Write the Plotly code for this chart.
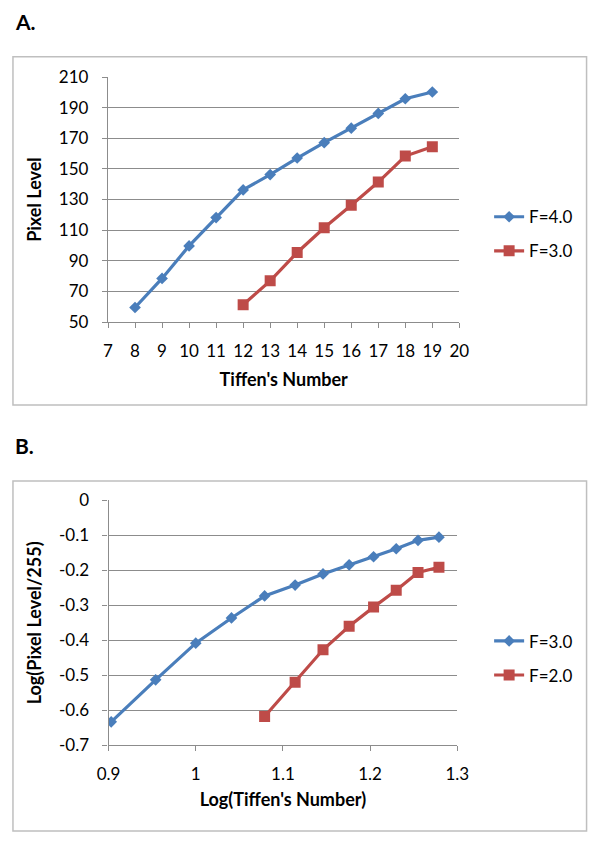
import plotly.graph_objects as go

# ---- Panel A data ----
a_x_f4 = [8, 9, 10, 11, 12, 13, 14, 15, 16, 17, 18, 19]
a_y_f4 = [59.5, 78.5, 99.7, 118.2, 136.3, 146.3, 157.1, 167.1, 176.6, 186.2, 195.8, 200.2]
a_x_f3 = [12, 13, 14, 15, 16, 17, 18, 19]
a_y_f3 = [61.3, 76.9, 95.4, 111.6, 126.2, 141.4, 158.4, 164.5]

# ---- Panel B data ----
b_x_f3 = [0.903, 0.954, 1.0, 1.041, 1.079, 1.114, 1.146, 1.176, 1.204, 1.230, 1.255, 1.279]
b_y_f3 = [-0.633, -0.513, -0.408, -0.336, -0.273, -0.242, -0.210, -0.184, -0.161, -0.138, -0.114, -0.105]
b_x_f2 = [1.079, 1.114, 1.146, 1.176, 1.204, 1.230, 1.255, 1.279]
b_y_f2 = [-0.618, -0.520, -0.427, -0.360, -0.305, -0.257, -0.206, -0.191]

b_yticks = [0, -0.1, -0.2, -0.3, -0.4, -0.5, -0.6, -0.7]
b_yticktext = ["0", "-0.1", "-0.2", "-0.3", "-0.4", "-0.5", "-0.6", "-0.7"]

BLUE = "#4A7EBB"
RED = "#BE4B48"
GRID = "#8C8C8C"
FONT = "Lato"
W, H = 600, 842

def px(x):
    return x / W

def py(y):
    return 1 - y / H

fig = go.Figure()

fig.add_trace(go.Scatter(x=a_x_f4, y=a_y_f4, name="F=4.0", mode="lines+markers",
                         line=dict(color=BLUE, width=3.2),
                         marker=dict(symbol="diamond", size=9, color=BLUE),
                         xaxis="x", yaxis="y", legend="legend", legendgroup="a1"))
fig.add_trace(go.Scatter(x=a_x_f3, y=a_y_f3, name="F=3.0", mode="lines+markers",
                         line=dict(color=RED, width=3.2),
                         marker=dict(symbol="square", size=11, color=RED),
                         xaxis="x", yaxis="y", legend="legend", legendgroup="a2"))
fig.add_trace(go.Scatter(x=b_x_f3, y=b_y_f3, name="F=3.0", mode="lines+markers",
                         line=dict(color=BLUE, width=3.2),
                         marker=dict(symbol="diamond", size=9, color=BLUE),
                         xaxis="x2", yaxis="y2", legend="legend2", legendgroup="b1"))
fig.add_trace(go.Scatter(x=b_x_f2, y=b_y_f2, name="F=2.0", mode="lines+markers",
                         line=dict(color=RED, width=3.2),
                         marker=dict(symbol="square", size=11, color=RED),
                         xaxis="x2", yaxis="y2", legend="legend2", legendgroup="b2"))

tickfont = dict(family=FONT, size=17, color="#000000")
titlefont = dict(family=FONT, size=18, color="#000000", weight="bold")

common_x = dict(showline=True, linecolor=GRID, linewidth=1.3, ticks="outside",
                ticklen=5, tickcolor=GRID, tickwidth=1.3, showgrid=False,
                zeroline=False, tickfont=tickfont, ticklabelstandoff=8)
common_y = dict(showline=True, linecolor=GRID, linewidth=1.3, ticks="outside",
                ticklen=5, tickcolor=GRID, tickwidth=1.3, showgrid=True,
                gridcolor=GRID, gridwidth=1.3, zeroline=False, tickfont=tickfont,
                ticklabelstandoff=10)

legend_common = dict(xanchor="left", yanchor="top",
                     font=dict(family=FONT, size=17, color="#000000"),
                     bgcolor="rgba(0,0,0,0)", tracegroupgap=9, itemwidth=30)

fig.update_layout(
    width=W, height=H,
    margin=dict(l=0, r=0, t=0, b=0),
    paper_bgcolor="white", plot_bgcolor="white",
    font=dict(family=FONT, color="#000000"),
    xaxis=dict(domain=[px(100), px(466)], range=[7, 20], dtick=1, tick0=7,
               anchor="y", title=dict(text="Tiffen's Number", font=titlefont, standoff=13),
               **common_x),
    yaxis=dict(domain=[py(319), py(67.7)], range=[50, 210], dtick=20, tick0=50,
               anchor="x", title=dict(text="Pixel Level", font=titlefont, standoff=12),
               **common_y),
    xaxis2=dict(domain=[px(100.6), px(463.8)], range=[0.9, 1.3], dtick=0.1, tick0=0.9,
                anchor="y2", title=dict(text="Log(Tiffen's Number)", font=titlefont, standoff=10),
                **common_x),
    yaxis2=dict(domain=[py(753), py(502)], range=[-0.7, 0], tickmode="array",
                tickvals=b_yticks, ticktext=b_yticktext,
                anchor="x2", title=dict(text="Log(Pixel Level/255)", font=titlefont, standoff=12),
                **common_y),
    legend=dict(x=px(497), y=py(193), **legend_common),
    legend2=dict(x=px(497), y=py(628), **legend_common),
    shapes=[
        dict(type="rect", xref="paper", yref="paper", x0=px(1), x1=px(598.5),
             y0=py(404), y1=py(47), line=dict(color="#BFBFBF", width=1.5)),
        dict(type="rect", xref="paper", yref="paper", x0=px(1), x1=px(598.5),
             y0=py(841), y1=py(482), line=dict(color="#BFBFBF", width=1.5)),
    ],
    annotations=[
        dict(text="<b>A.</b>", xref="paper", yref="paper", x=px(1), y=py(11),
             xanchor="left", yanchor="middle", showarrow=False,
             font=dict(family=FONT, size=21, color="#000000")),
        dict(text="<b>B.</b>", xref="paper", yref="paper", x=px(1), y=py(446),
             xanchor="left", yanchor="middle", showarrow=False,
             font=dict(family=FONT, size=21, color="#000000")),
    ],
)

fig.write_html("out.html", config={"displayModeBar": False},
               post_script="document.body.style.margin='0px';")
